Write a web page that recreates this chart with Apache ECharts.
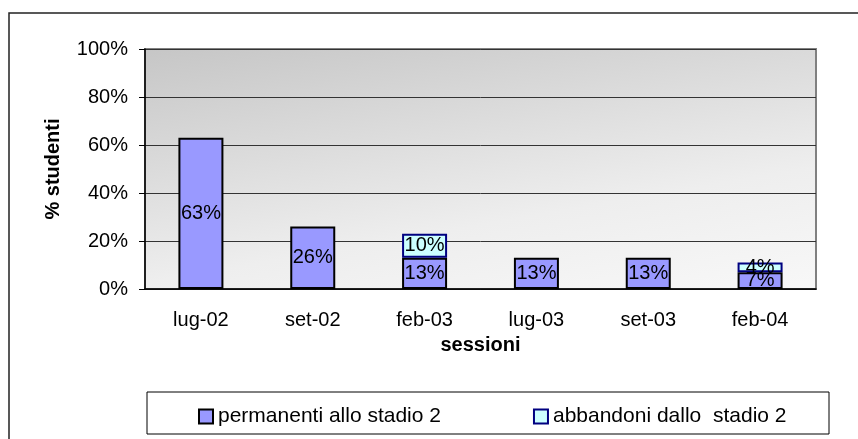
<!DOCTYPE html>
<html>
<head>
    <meta charset="utf-8">
    <script src="https://cdn.jsdelivr.net/npm/echarts@6/dist/echarts.min.js"></script>
    <style>
        html, body { margin: 0; padding: 0; background: #fff; }
    </style>
</head>
<body>
<div id="main" style="width: 858px;height:439px;"></div>
<script type="text/javascript">
    // sessioni d'esame
    var sessioni = ['lug-02', 'set-02', 'feb-03', 'lug-03', 'set-03', 'feb-04'];
    // % studenti
    var permanenti = [63, 26, 13, 13, 13, 7];
    var abbandoni = [null, null, 10, null, null, 4];
    var yTicks = [0, 20, 40, 60, 80, 100];

    var font = 'Arial, "Liberation Sans", sans-serif';
    var myChart = echarts.init(document.getElementById('main'));

    var option = {
        animation: false,
        textStyle: { fontFamily: font },
        graphic: [
            {
                type: 'rect',
                shape: { x: 9, y: 13, width: 900, height: 500 },
                style: { fill: 'none', stroke: '#222', lineWidth: 1.5 },
                silent: true
            },
            {
                type: 'rect',
                shape: { x: 147, y: 392, width: 682, height: 42 },
                style: { fill: '#fff', stroke: '#000', lineWidth: 1 },
                silent: true,
                z: -1
            }
        ],
        grid: {
            left: 145,
            top: 49,
            width: 671,
            height: 240,
            show: true,
            borderColor: '#808080',
            borderWidth: 2,
            backgroundColor: {
                type: 'linear', x: 0, y: 0, x2: 0.09, y2: 1.45,
                colorStops: [
                    { offset: 0, color: '#c6c6c6' },
                    { offset: 0.65, color: '#eeeeee' },
                    { offset: 1, color: '#f8f8f8' }
                ]
            }
        },
        legend: {
            left: 193,
            top: 401,
            itemWidth: 14,
            itemHeight: 14,
            itemGap: 92,
            icon: 'rect',
            textStyle: { fontSize: 21, color: '#000', fontFamily: font },
            data: [
                { name: 'permanenti allo stadio 2', itemStyle: { color: '#9999ff', borderColor: '#000', borderWidth: 2 } },
                { name: 'abbandoni dallo  stadio 2', itemStyle: { color: '#ccffff', borderColor: '#000080', borderWidth: 2 } }
            ]
        },
        xAxis: {
            type: 'category',
            data: sessioni,
            name: 'sessioni',
            nameLocation: 'middle',
            nameGap: 46,
            nameTextStyle: { fontSize: 20, fontWeight: 'bold', color: '#000', fontFamily: font },
            axisLine: { lineStyle: { color: '#000', width: 1.5 } },
            axisTick: { length: 6, lineStyle: { color: '#000' } },
            axisLabel: { fontSize: 20, color: '#000', margin: 21, fontFamily: font }
        },
        yAxis: {
            type: 'value',
            min: yTicks[0],
            max: yTicks[yTicks.length - 1],
            interval: 20,
            name: '% studenti',
            nameLocation: 'middle',
            nameGap: 82,
            nameTextStyle: { fontSize: 20, fontWeight: 'bold', color: '#000', fontFamily: font },
            axisLine: { show: true, lineStyle: { color: '#000', width: 1.5 } },
            axisTick: { show: true, length: 6, lineStyle: { color: '#000' } },
            axisLabel: { fontSize: 20, color: '#000', margin: 17, formatter: '{value}%', fontFamily: font },
            splitLine: { lineStyle: { color: '#333', width: 1 } }
        },
        series: [
            {
                name: 'permanenti allo stadio 2',
                type: 'bar',
                stack: 'tot',
                barWidth: 45,
                data: permanenti,
                itemStyle: { color: '#9999ff', borderColor: '#000', borderWidth: 2 },
                label: { show: true, position: 'inside', formatter: '{c}%', fontSize: 20, color: '#000', fontFamily: font }
            },
            {
                name: 'abbandoni dallo  stadio 2',
                type: 'bar',
                stack: 'tot',
                barWidth: 45,
                data: abbandoni,
                itemStyle: { color: '#ccffff', borderColor: '#000080', borderWidth: 2 },
                label: { show: true, position: 'inside', formatter: '{c}%', fontSize: 20, color: '#000', fontFamily: font }
            }
        ]
    };
    myChart.setOption(option);
</script>
</body>
</html>
